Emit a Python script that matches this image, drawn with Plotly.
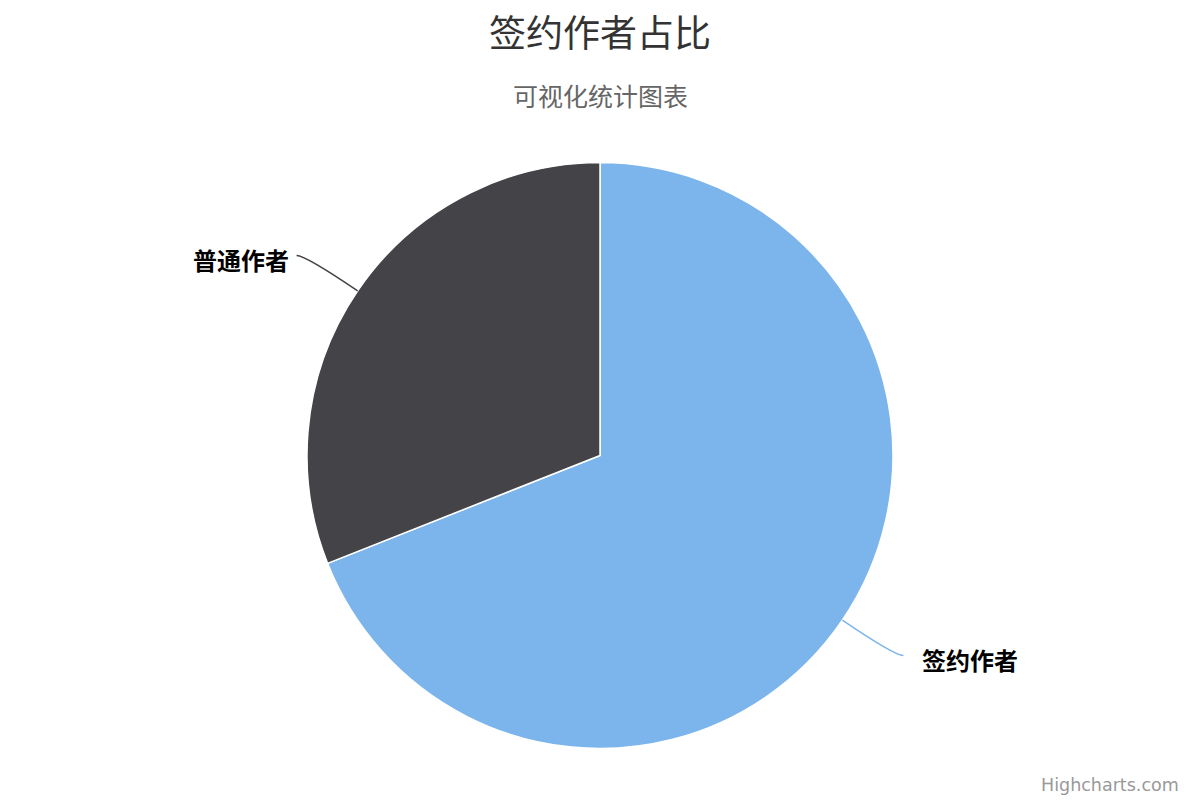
import math
import plotly.graph_objects as go

# data
labels = ["签约作者", "普通作者"]
values = [69, 31]
colors = ["#7cb5ec", "#434348"]

title_text = "签约作者占比"
subtitle_text = "可视化统计图表"
credits_text = "Highcharts.com"

W, H = 1200, 800
cx, cy, r = 600, 455.5, 293
label_r = 356  # where the connector bends into its horizontal run

cjk = "Noto Sans CJK SC, Noto Sans, DejaVu Sans, sans-serif"


def px(x):
    return x / W


def py(y):
    return 1 - y / H


fig = go.Figure()
fig.add_trace(go.Pie(
    labels=labels,
    values=values,
    sort=False,
    direction="clockwise",
    rotation=0,
    marker=dict(colors=colors, line=dict(color="#ffffff", width=1.5)),
    textinfo="none",
    hoverinfo="label+percent",
    showlegend=False,
    domain=dict(x=[px(cx - r), px(cx + r)], y=[py(cy + r), py(cy - r)]),
))

# connectors + labels, positioned from slice mid angles
total = sum(values)
start = 0.0
for lab, val, col in zip(labels, values, colors):
    mid = (start + val / 2) / total * 2 * math.pi
    start += val
    sx, sy = math.sin(mid), -math.cos(mid)
    side = 1 if sx >= 0 else -1
    x0, y0 = cx + r * sx, cy + r * sy
    qx, qy = cx + label_r * sx, cy + label_r * sy
    ex, ey = qx + side * 9, qy
    gap = 17 if side > 0 else 6
    fig.add_shape(
        type="path", xref="paper", yref="paper",
        path=f"M {px(x0)},{py(y0)} Q {px(qx)},{py(qy)} {px(ex)},{py(ey)}",
        line=dict(color=col, width=1.5),
    )
    fig.add_annotation(
        x=px(ex + side * gap), y=py(ey + 4), xref="paper", yref="paper",
        text=lab, showarrow=False,
        xanchor="left" if side > 0 else "right", yanchor="middle",
        font=dict(family=cjk, size=24, color="#000000", weight="bold"),
    )

fig.add_annotation(
    x=0.5, y=py(95), xref="paper", yref="paper", text=subtitle_text,
    showarrow=False, xanchor="center", yanchor="middle",
    font=dict(family=cjk, size=25, color="#666666"),
)
fig.add_annotation(
    x=px(1181), y=py(785), xref="paper", yref="paper", text=credits_text,
    showarrow=False, xanchor="right", yanchor="middle",
    font=dict(family="DejaVu Sans, Verdana, sans-serif", size=17.5, color="#999999"),
)

fig.update_layout(
    width=W, height=H,
    margin=dict(l=0, r=0, t=0, b=0),
    paper_bgcolor="#ffffff",
    plot_bgcolor="#ffffff",
    title=dict(
        text=title_text, x=0.5, xanchor="center", y=py(34), yanchor="middle",
        font=dict(family=cjk, size=37, color="#333333"),
    ),
)

fig.write_html(
    "out.html",
    config={"displayModeBar": False},
    post_script="document.body.style.margin = '0';",
)
